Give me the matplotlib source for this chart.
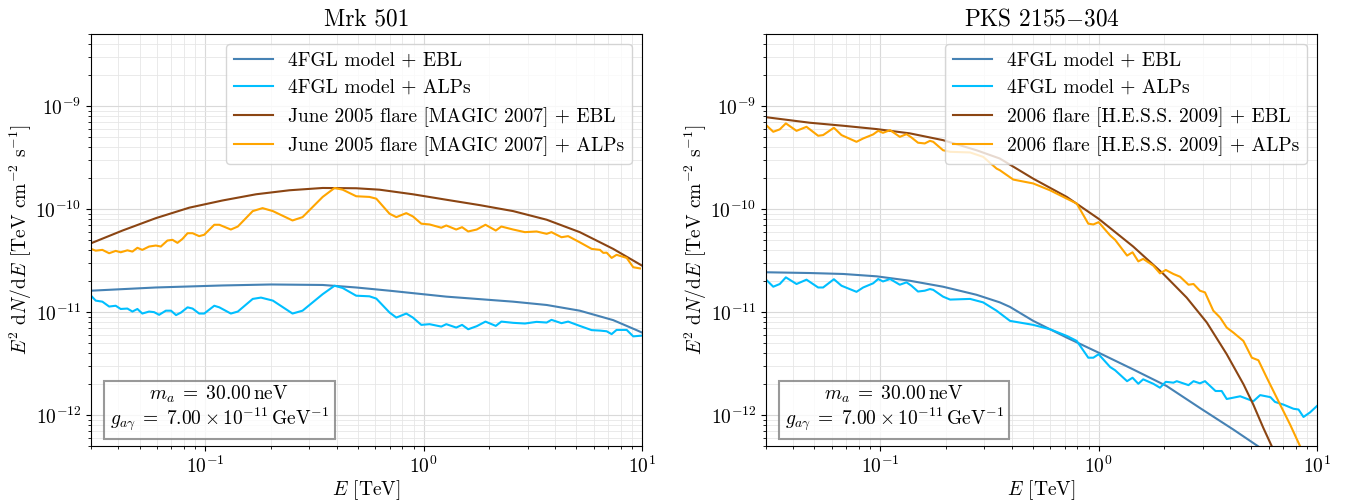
import numpy as np
import matplotlib as mpl
import matplotlib.pyplot as plt

mpl.rcParams.update({
    "font.family": "serif",
    "font.serif": ["cmr10"],
    "mathtext.fontset": "cm",
    "axes.formatter.use_mathtext": True,
    "axes.unicode_minus": False,
    "font.size": 14,
})

C_EBL4, C_ALP4, C_EBLF, C_ALPF = "steelblue", "deepskyblue", "saddlebrown", "orange"

# ---- Mrk 501 (E in TeV, E^2 dN/dE in units of 1e-11 TeV cm^-2 s^-1) ----
mrk_e_ebl4 = [0.03, 0.0594, 0.120, 0.200, 0.345, 0.491, 0.698, 1.27, 2.57, 3.66, 5.19, 7.38, 9.44, 10.0]
mrk_f_ebl4 = [1.61, 1.73, 1.81, 1.85, 1.83, 1.73, 1.61, 1.41, 1.26, 1.17, 1.03, 0.834, 0.667, 0.631]

mrk_e_eblf = [0.03, 0.0418, 0.0594, 0.0845, 0.120, 0.171, 0.243, 0.345, 0.491, 0.628, 0.893,
              1.27, 1.81, 2.57, 3.66, 5.19, 7.38, 10.0]
mrk_f_eblf = [4.65, 6.18, 8.15, 10.3, 12.1, 13.9, 15.2, 16.0, 15.9, 15.4, 13.9,
              12.3, 10.9, 9.54, 7.87, 5.96, 4.10, 2.82]

mrk_e_alp = [0.03, 0.0315, 0.0338, 0.0363, 0.0389, 0.0410, 0.0440, 0.0464, 0.0489, 0.0515,
             0.0553, 0.0594, 0.0626, 0.0671, 0.0708, 0.0746, 0.0787, 0.0830, 0.0875, 0.0938,
             0.0989, 0.110, 0.116, 0.131, 0.141, 0.165, 0.183, 0.204, 0.251, 0.279,
             0.345, 0.391, 0.426, 0.491, 0.565, 0.607, 0.698, 0.750, 0.833, 0.893,
             0.976, 1.065, 1.205, 1.27, 1.41, 1.50, 1.60, 1.75, 1.92, 2.14,
             2.27, 2.57, 2.91, 3.29, 3.66, 3.85, 4.28, 4.59, 5.19, 5.88,
             6.42, 6.65, 6.89, 7.26, 7.65, 8.51, 9.12, 9.79]
mrk_f_alpf = [4.10, 3.94, 4.01, 3.72, 3.92, 3.80, 3.97, 3.86, 4.20, 4.01,
              4.32, 4.42, 4.32, 4.94, 5.02, 4.69, 5.13, 5.82, 5.82, 5.45,
              5.62, 7.03, 7.03, 6.32, 6.76, 9.54, 10.2, 9.54, 7.74, 8.34,
              13.1, 16.0, 15.4, 13.3, 13.1, 12.6, 9.0, 8.34, 9.12, 8.47,
              7.20, 7.08, 6.58, 6.92, 6.32, 6.66, 6.05, 6.32, 7.03, 6.18,
              6.76, 6.32, 5.96, 6.05, 5.74, 5.96, 5.32, 5.45, 4.75, 4.10,
              4.01, 3.75, 3.77, 3.35, 3.59, 3.35, 2.72, 2.65]

mrk_e_alp4 = [0.03, 0.0315, 0.0338, 0.0363, 0.0389, 0.0410, 0.0440, 0.0464, 0.0489, 0.0515,
              0.0553, 0.0583, 0.0615, 0.066, 0.0697, 0.0735, 0.0775, 0.0830, 0.0875, 0.0938,
              0.0989, 0.110, 0.116, 0.131, 0.141, 0.165, 0.180, 0.204, 0.251, 0.279,
              0.345, 0.391, 0.426, 0.491, 0.565, 0.607, 0.698, 0.750, 0.833, 0.893,
              0.976, 1.065, 1.205, 1.27, 1.41, 1.50, 1.60, 1.75, 1.92, 2.14,
              2.27, 2.57, 2.91, 3.29, 3.66, 3.85, 4.28, 4.59, 5.19, 5.88,
              6.42, 6.89, 7.26, 7.65, 8.51, 9.12, 10.0]
mrk_f_alp4 = [1.44, 1.29, 1.26, 1.13, 1.15, 1.07, 1.08, 1.01, 1.07, 0.966,
              1.01, 0.997, 0.939, 1.03, 1.03, 0.933, 0.989, 1.11, 1.08, 0.966,
              0.966, 1.15, 1.11, 0.966, 1.01, 1.34, 1.38, 1.29, 0.966, 1.03,
              1.49, 1.80, 1.71, 1.44, 1.42, 1.35, 0.989, 0.883, 0.966, 0.883,
              0.750, 0.762, 0.722, 0.762, 0.706, 0.750, 0.680, 0.728, 0.807, 0.733,
              0.807, 0.785, 0.773, 0.802, 0.790, 0.839, 0.779, 0.807, 0.733, 0.667,
              0.66, 0.65, 0.61, 0.67, 0.67, 0.58, 0.59]

# ---- PKS 2155-304 ----
pks_e_ebl4 = [0.0304, 0.0476, 0.0677, 0.0963, 0.137, 0.194, 0.276, 0.353, 0.393, 0.502,
              0.715, 1.0, 1.44, 2.05, 2.91, 4.14, 5.38]
pks_f_ebl4 = [2.43, 2.39, 2.34, 2.22, 2.01, 1.76, 1.47, 1.24, 1.12, 0.82,
              0.564, 0.403, 0.277, 0.191, 0.117, 0.0722, 0.0496]

pks_e_eblf = [0.0304, 0.0476, 0.0677, 0.0963, 0.137, 0.194, 0.276, 0.353, 0.502, 0.715,
              1.0, 1.44, 1.98, 2.53, 3.13, 3.86, 4.61, 5.11, 5.68, 6.21]
pks_f_eblf = [77.6, 68.8, 64.3, 59.7, 54.2, 46.6, 37.2, 30.9, 19.7, 13.1,
              8.04, 4.32, 2.34, 1.38, 0.79, 0.389, 0.198, 0.126, 0.0748, 0.0496]

pks_e_alpf = [0.0304, 0.0324, 0.0347, 0.0370, 0.0414, 0.0460, 0.0520, 0.0548, 0.0614, 0.0665,
              0.0779, 0.0836, 0.0929, 0.0979, 0.103, 0.111, 0.123, 0.132, 0.139, 0.149,
              0.160, 0.169, 0.175, 0.194, 0.209, 0.258, 0.296, 0.341, 0.353, 0.407,
              0.502, 0.599, 0.715, 0.794, 0.897, 0.946, 1.0, 1.13, 1.19, 1.35,
              1.43, 1.52, 1.60, 1.78, 1.91, 2.03, 2.20, 2.36, 2.58, 2.72,
              2.91, 3.07, 3.35, 3.60, 3.86, 4.14, 4.60, 5.03, 5.39, 5.89,
              6.78, 7.53, 8.37]
pks_f_alpf = [63.8, 56.2, 59.3, 67.8, 57.4, 62.8, 51.4, 52.2, 61.5, 52.2,
              44.9, 48.4, 53.0, 57.4, 54.9, 58.3, 50.2, 53.3, 49.5, 44.0,
              43.3, 45.9, 44.9, 37.2, 35.9, 35.4, 32.1, 24.7, 23.8, 19.3,
              17.7, 15.2, 12.6, 11.3, 7.2, 7.08, 7.45, 5.53, 5.02, 3.53,
              3.80, 3.10, 3.28, 2.82, 2.37, 2.56, 2.34, 2.20, 1.84, 1.87,
              1.61, 1.55, 1.03, 0.883, 0.706, 0.631, 0.524, 0.360, 0.340, 0.230,
              0.126, 0.0807, 0.0496]

pks_e_alp4 = [0.0304, 0.0324, 0.0347, 0.0370, 0.0414, 0.0460, 0.0520, 0.0548, 0.0614, 0.0665,
              0.0779, 0.0836, 0.0929, 0.0979, 0.103, 0.111, 0.123, 0.132, 0.139, 0.149,
              0.160, 0.169, 0.175, 0.194, 0.209, 0.258, 0.296, 0.341, 0.393, 0.502,
              0.599, 0.715, 0.794, 0.897, 0.946, 1.0, 1.13, 1.19, 1.35, 1.43,
              1.52, 1.60, 1.78, 1.91, 2.03, 2.20, 2.28, 2.58, 2.72, 2.91,
              3.07, 3.43, 3.66, 3.86, 4.45, 5.11, 5.49, 6.12, 6.42, 7.03,
              7.80, 8.23, 8.67, 9.29, 9.98]
pks_f_alp4 = [2.01, 1.76, 1.87, 2.17, 1.87, 2.06, 1.73, 1.73, 2.08, 1.80,
              1.57, 1.73, 1.90, 2.09, 1.98, 2.09, 1.84, 1.94, 1.80, 1.58,
              1.61, 1.67, 1.64, 1.41, 1.32, 1.34, 1.24, 1.03, 0.820, 0.750,
              0.680, 0.586, 0.524, 0.360, 0.360, 0.389, 0.292, 0.272, 0.213, 0.230,
              0.201, 0.222, 0.201, 0.184, 0.210, 0.206, 0.213, 0.195, 0.213, 0.203,
              0.213, 0.171, 0.171, 0.143, 0.152, 0.136, 0.156, 0.149, 0.134, 0.126,
              0.115, 0.113, 0.0957, 0.106, 0.122]

UNIT = 1e-11

panels = [
    ("Mrk 501", "June 2005 flare [MAGIC 2007]",
     (mrk_e_ebl4, mrk_f_ebl4), (mrk_e_alp4, mrk_f_alp4),
     (mrk_e_eblf, mrk_f_eblf), (mrk_e_alp, mrk_f_alpf)),
    ("PKS 2155$-$304", "2006 flare [H.E.S.S. 2009]",
     (pks_e_ebl4, pks_f_ebl4), (pks_e_alp4, pks_f_alp4),
     (pks_e_eblf, pks_f_eblf), (pks_e_alpf, pks_f_alpf)),
]

fig = plt.figure(figsize=(13.49, 5.03), dpi=100)
boxes = [[0.0675, 0.1133, 0.4084, 0.8191], [0.5678, 0.1133, 0.4085, 0.8191]]

for rect, (title, flare, ebl4, alp4, eblf, alpf) in zip(boxes, panels):
    ax = fig.add_axes(rect)
    ax.plot(ebl4[0], np.array(ebl4[1]) * UNIT, color=C_EBL4, lw=1.5, label="4FGL model + EBL")
    ax.plot(alp4[0], np.array(alp4[1]) * UNIT, color=C_ALP4, lw=1.5, label="4FGL model + ALPs")
    ax.plot(eblf[0], np.array(eblf[1]) * UNIT, color=C_EBLF, lw=1.5, label=flare + " + EBL")
    ax.plot(alpf[0], np.array(alpf[1]) * UNIT, color=C_ALPF, lw=1.5, label=flare + " + ALPs")
    ax.set_xscale("log"); ax.set_yscale("log")
    ax.set_xlim(0.03, 10); ax.set_ylim(5e-13, 5e-9)
    ax.grid(True, which="major", color="0.85", lw=0.8)
    ax.grid(True, which="minor", color="0.9", lw=0.6)
    ax.set_axisbelow(True)
    ax.set_title(title, fontsize=16.8)
    ax.set_xlabel(r"$E$ [TeV]", labelpad=1)
    ax.set_ylabel(r"$E^2\ \mathrm{d}N/\mathrm{d}E$ [TeV cm$^{-2}$ s$^{-1}$]", labelpad=1)
    ax.legend(loc="upper right")
    # parameter box, lower left
    ax.text(0.034, 0.032,
            "$m_a\\;=\\;30.00\\,\\mathrm{neV}$\n$g_{a\\gamma}\\;=\\;7.00 \\times 10^{-11}\\,\\mathrm{GeV}^{-1}$",
            transform=ax.transAxes, ha="left", va="bottom", multialignment="center",
            linespacing=1.05,
            bbox=dict(boxstyle="square,pad=0.3", fc="white", ec="0.5", lw=1.5, alpha=0.8))

fig.savefig("out.png", dpi=100)
